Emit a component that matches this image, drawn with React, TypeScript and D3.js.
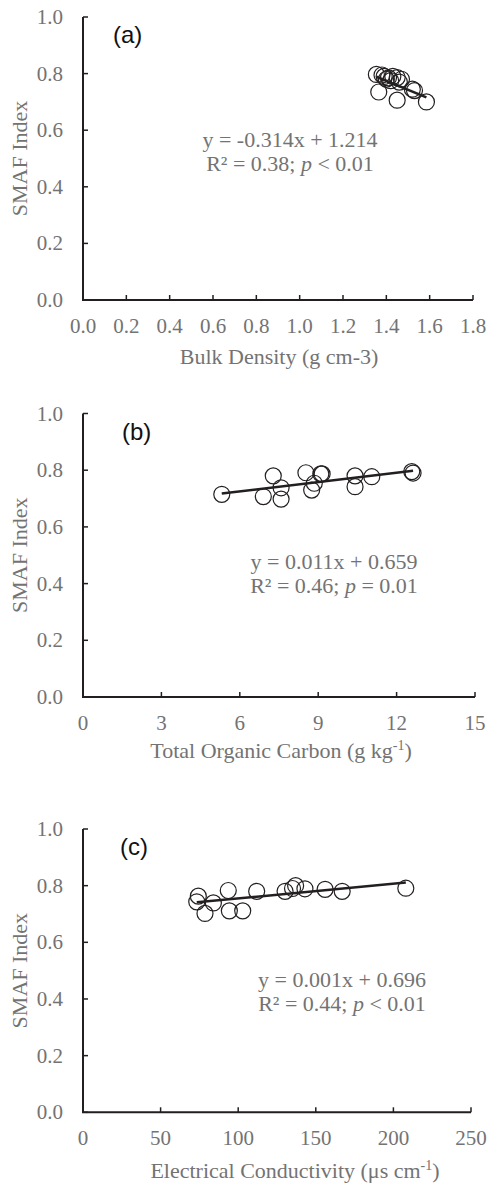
import * as d3 from "d3";
import React from "react";

// y axis is shared by all three panels
const yTicks = [0, 0.2, 0.4, 0.6, 0.8, 1.0];

// (a) bulk density vs SMAF
const bulkDensity = [1.354, 1.365, 1.38, 1.39, 1.4, 1.41, 1.42, 1.43, 1.45, 1.46, 1.47, 1.45, 1.52, 1.53, 1.585];
const smafA = [0.797, 0.735, 0.795, 0.79, 0.78, 0.785, 0.775, 0.79, 0.786, 0.77, 0.78, 0.706, 0.745, 0.74, 0.7];
const xTicksA = [0, 0.2, 0.4, 0.6, 0.8, 1.0, 1.2, 1.4, 1.6, 1.8];

// (b) total organic carbon vs SMAF
const organicCarbon = [5.31, 7.28, 7.58, 6.9, 7.58, 8.53, 8.85, 8.75, 9.1, 9.15, 10.41, 10.41, 11.05, 12.58, 12.63];
const smafB = [0.715, 0.78, 0.738, 0.707, 0.698, 0.791, 0.754, 0.73, 0.787, 0.787, 0.78, 0.742, 0.777, 0.795, 0.79];
const xTicksB = [0, 3, 6, 9, 12, 15];

// (c) electrical conductivity vs SMAF
const conductivity = [74.3, 73.3, 78.6, 84, 94.3, 102.9, 93.6, 111.9, 130.2, 135, 137, 143, 156, 167, 208];
const smafC = [0.763, 0.743, 0.702, 0.739, 0.711, 0.711, 0.783, 0.78, 0.78, 0.79, 0.8, 0.789, 0.787, 0.78, 0.791];
const xTicksC = [0, 50, 100, 150, 200, 250];

// trend lines [slope, intercept]
const fitA = [-0.314, 1.214];
const fitB = [0.011, 0.659];
const fitC = [0.00052, 0.703];

const grey = "#737373";
const ink = "#231f20";
const serif = "'Liberation Serif', 'Times New Roman', serif";

const panels = [
  {
    tag: "(a)", xs: bulkDensity, ys: smafA, ticks: xTicksA, fmt: ".1f", fit: fitA,
    top: 17, bottom: 300, left: 83, right: 473, tagX: 113, titleX: 279, titleDy: 64, eqX: 290, eqY: 147,
    eq: "y = -0.314x + 1.214", r2: "R² = 0.38; ", pv: " < 0.01",
    title: ["Bulk Density (g cm-3)", null],
  },
  {
    tag: "(b)", xs: organicCarbon, ys: smafB, ticks: xTicksB, fmt: "d", fit: fitB,
    top: 413.5, bottom: 697, left: 83, right: 475, tagX: 122, titleX: 281, titleDy: 61, eqX: 334, eqY: 569,
    eq: "y = 0.011x + 0.659", r2: "R² = 0.46; ", pv: " = 0.01",
    title: ["Total Organic Carbon (g kg", "-1"],
  },
  {
    tag: "(c)", xs: conductivity, ys: smafC, ticks: xTicksC, fmt: "d", fit: fitC,
    top: 829, bottom: 1112.3, left: 83, right: 471, tagX: 120, titleX: 295, titleDy: 66, eqX: 342, eqY: 987,
    eq: "y = 0.001x + 0.696", r2: "R² = 0.44; ", pv: " < 0.01",
    title: ["Electrical Conductivity (μs cm", "-1"],
  },
];

const Panel = ({ p }: { p: any }) => {
  const x = d3.scaleLinear().domain([0, p.ticks[p.ticks.length - 1]]).range([p.left, p.right]);
  const y = d3.scaleLinear().domain([0, 1]).range([p.bottom, p.top]);
  const fmt = d3.format(p.fmt);
  const [x0, x1] = d3.extent(p.xs as number[]) as [number, number];
  const line = d3.line<number>().x((d) => x(d)).y((d) => y(p.fit[0] * d + p.fit[1]));

  return (
    <g>
      {/* y label */}
      <text
        transform={`translate(19,${(p.top + p.bottom) / 2}) rotate(-90)`}
        textAnchor="middle"
        dominantBaseline="central"
        fontFamily={serif}
        fontSize={22}
        fill={grey}
      >
        SMAF Index
      </text>

      {yTicks.map((t) => (
        <g key={"y" + t}>
          <line x1={p.left} x2={p.left + 5} y1={y(t)} y2={y(t)} stroke={ink} strokeWidth={1.5} />
          <text x={63} y={y(t)} textAnchor="end" dominantBaseline="central" fontFamily={serif} fontSize={21} fill={grey}>
            {d3.format(".1f")(t)}
          </text>
        </g>
      ))}

      {p.ticks.map((t: number) => (
        <g key={"x" + t}>
          <line x1={x(t)} x2={x(t)} y1={p.bottom} y2={p.bottom - 5} stroke={ink} strokeWidth={1.5} />
          <text x={x(t)} y={p.bottom + 33} textAnchor="middle" fontFamily={serif} fontSize={21} fill={grey}>
            {fmt(t)}
          </text>
        </g>
      ))}

      <path
        d={`M${p.left},${p.top}V${p.bottom}H${p.right}`}
        fill="none"
        stroke={ink}
        strokeWidth={2}
      />

      <text x={p.titleX} y={p.bottom + p.titleDy} textAnchor="middle" fontFamily={serif} fontSize={22} fill={grey}>
        {p.title[0]}
        {p.title[1] && (
          <>
            <tspan dy={-8} fontSize={14}>{p.title[1]}</tspan>
            <tspan dy={8}>)</tspan>
          </>
        )}
      </text>

      <text x={p.tagX} y={p.top + 26} fontFamily="'Liberation Sans', Arial, sans-serif" fontSize={24} fill="#111">
        {p.tag}
      </text>

      {p.xs.map((v: number, i: number) => (
        <circle key={i} cx={x(v)} cy={y(p.ys[i])} r={8} fill="none" stroke={ink} strokeWidth={1.2} />
      ))}

      <path d={line([x0, x1]) || ""} fill="none" stroke={ink} strokeWidth={2.5} />

      <text x={p.eqX} y={p.eqY} textAnchor="middle" fontFamily={serif} fontSize={22} fill={grey}>
        {p.eq}
      </text>
      <text x={p.eqX} y={p.eqY + 24} textAnchor="middle" fontFamily={serif} fontSize={22} fill={grey}>
        {p.r2}
        <tspan fontStyle="italic">p</tspan>
        {p.pv}
      </text>
    </g>
  );
};

export default function App() {
  return (
    <svg width={490} height={1185} style={{ position: "absolute", left: 0, top: 0, background: "#fff" }}>
      {panels.map((p) => (
        <Panel key={p.tag} p={p} />
      ))}
    </svg>
  );
}
